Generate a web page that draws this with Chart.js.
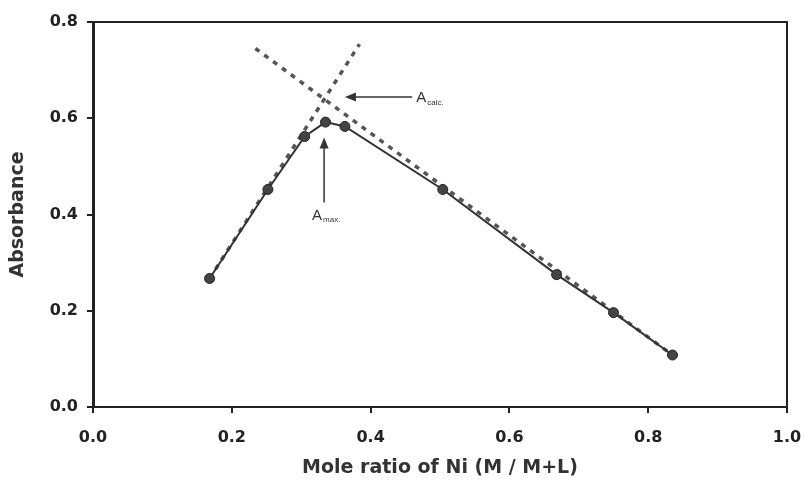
<!DOCTYPE html>
<html>
<head>
<meta charset="utf-8">
<script src="https://cdn.jsdelivr.net/npm/chart.js@4/dist/chart.umd.min.js"></script>
<style>
  html, body { margin: 0; padding: 0; background: #fff; }
  #wrap { width: 804px; height: 490px; }
</style>
</head>
<body>
<div id="wrap"><canvas id="job-chart" width="804" height="490"></canvas></div>
<script>
// measured points
const moleRatio = [0.168, 0.252, 0.305, 0.335, 0.363, 0.504, 0.668, 0.75, 0.835]
const absorbance = [0.267, 0.452, 0.562, 0.592, 0.583, 0.452, 0.275, 0.196, 0.108]

// extrapolated tangent lines
const risingX = [0.168, 0.384]
const risingY = [0.267, 0.754]
const fallingX = [0.234, 0.835]
const fallingY = [0.745, 0.108]

const xTicks = [0.0, 0.2, 0.4, 0.6, 0.8, 1.0]
const yTicks = [0.0, 0.2, 0.4, 0.6, 0.8]

// arrow positions in data units: [fromX, fromY, toX, toY]
const calcArrow = [0.46, 0.644, 0.363, 0.644]
const maxArrow = [0.333, 0.425, 0.333, 0.56]

const inkColor = '#333'
const dashColor = '#555'
const fontFamily = '"DejaVu Sans", "Liberation Sans", Arial, sans-serif'

function toPoints(xs, ys) {
  return xs.map((x, i) => ({ x: x, y: ys[i] }))
}

const framePlugin = {
  id: 'frame',
  afterDraw(chart) {
    const ctx = chart.ctx
    const a = chart.chartArea
    const xs = chart.scales.x
    const ys = chart.scales.y
    ctx.save()
    ctx.strokeStyle = '#222'
    ctx.lineWidth = 2
    ctx.beginPath()
    ctx.moveTo(a.left, a.top)
    ctx.lineTo(a.right, a.top)
    ctx.lineTo(a.right, a.bottom)
    ctx.stroke()

    // arrows
    function arrow(p) {
      const x1 = xs.getPixelForValue(p[0]), y1 = ys.getPixelForValue(p[1])
      const x2 = xs.getPixelForValue(p[2]), y2 = ys.getPixelForValue(p[3])
      const ang = Math.atan2(y2 - y1, x2 - x1)
      ctx.strokeStyle = inkColor
      ctx.fillStyle = inkColor
      ctx.lineWidth = 1.5
      ctx.beginPath()
      ctx.moveTo(x1, y1)
      ctx.lineTo(x2 - 8 * Math.cos(ang), y2 - 8 * Math.sin(ang))
      ctx.stroke()
      ctx.beginPath()
      ctx.moveTo(x2, y2)
      ctx.lineTo(x2 - 11 * Math.cos(ang) + 4.5 * Math.sin(ang), y2 - 11 * Math.sin(ang) - 4.5 * Math.cos(ang))
      ctx.lineTo(x2 - 11 * Math.cos(ang) - 4.5 * Math.sin(ang), y2 - 11 * Math.sin(ang) + 4.5 * Math.cos(ang))
      ctx.closePath()
      ctx.fill()
      return [x1, y1]
    }
    const c = arrow(calcArrow)
    const m = arrow(maxArrow)

    ctx.fillStyle = inkColor
    ctx.textBaseline = 'alphabetic'
    ctx.textAlign = 'left'
    ctx.font = '15px "Liberation Sans", Arial, sans-serif'
    ctx.fillText('A', c[0] + 4, c[1] + 5)
    ctx.font = '8px "Liberation Sans", Arial, sans-serif'
    ctx.fillText('calc.', c[0] + 15, c[1] + 8)

    ctx.font = '15px "Liberation Sans", Arial, sans-serif'
    ctx.fillText('A', m[0] - 12, m[1] + 18)
    ctx.font = '8px "Liberation Sans", Arial, sans-serif'
    ctx.fillText('max.', m[0] - 1, m[1] + 20)
    ctx.restore()
  }
}

const jobChartConfig = {
  type: 'line',
  data: {
    datasets: [{
      label: 'Absorbance',
      data: toPoints(moleRatio, absorbance),
      borderColor: inkColor,
      borderWidth: 2,
      pointRadius: 5,
      pointBackgroundColor: '#444',
      pointBorderColor: '#222',
      pointBorderWidth: 1,
      tension: 0
    }, {
      label: 'rising',
      data: toPoints(risingX, risingY),
      borderColor: dashColor,
      borderWidth: 3.5,
      borderDash: [5, 6],
      pointRadius: 0
    }, {
      label: 'falling',
      data: toPoints(fallingX, fallingY),
      borderColor: dashColor,
      borderWidth: 3.5,
      borderDash: [5, 6],
      pointRadius: 0
    }]
  },
  options: {
    responsive: false,
    animation: false,
    layout: { padding: { top: 22, right: 17, left: 0, bottom: 0 } },
    plugins: {
      legend: { display: false },
      tooltip: { enabled: false }
    },
    scales: {
      x: {
        type: 'linear',
        min: 0,
        max: 1,
        afterBuildTicks: (s) => { s.ticks = xTicks.map(v => ({ value: v })) },
        afterFit: (s) => {
          s.height = 83
          s.paddingLeft = 0
          s.paddingRight = 0
        },
        ticks: {
          callback: (v) => v.toFixed(1),
          color: '#222',
          font: { family: fontFamily, size: 16, weight: 'bold' },
          padding: 15,
          maxRotation: 0
        },
        grid: { drawOnChartArea: false, drawTicks: true, tickLength: 6, color: '#222', lineWidth: 2 },
        border: { color: '#222', width: 2 },
        title: {
          display: true,
          text: 'Mole ratio of Ni (M / M+L)',
          color: '#333',
          font: { family: fontFamily, size: 19, weight: 'bold' },
          padding: { top: 4, bottom: 11 }
        }
      },
      y: {
        type: 'linear',
        min: 0,
        max: 0.8,
        afterBuildTicks: (s) => { s.ticks = yTicks.map(v => ({ value: v })) },
        afterFit: (s) => { s.width = 93 },
        ticks: {
          callback: (v) => v.toFixed(1),
          color: '#222',
          font: { family: fontFamily, size: 16, weight: 'bold' },
          padding: 9
        },
        grid: { drawOnChartArea: false, drawTicks: true, tickLength: 6, color: '#222', lineWidth: 2 },
        border: { color: '#222', width: 3 },
        title: {
          display: true,
          text: 'Absorbance',
          color: '#333',
          font: { family: fontFamily, size: 19, weight: 'bold' },
          padding: { top: 7, bottom: 0 }
        }
      }
    }
  },
  plugins: [framePlugin]
}

const jobChartCtx = document.querySelector('#job-chart').getContext('2d')
const jobChart = new Chart(jobChartCtx, jobChartConfig)
</script>
</body>
</html>
